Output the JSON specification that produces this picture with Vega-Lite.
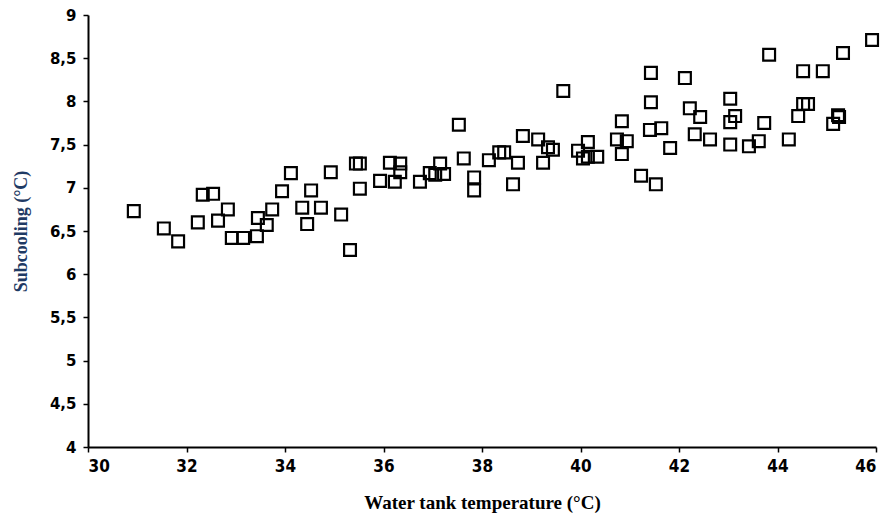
{
  "$schema": "https://vega.github.io/schema/vega-lite/v6.json",
  "width": 788,
  "height": 432,
  "autosize": {"type": "none"},
  "padding": {"left": 88, "top": 15, "right": 17, "bottom": 73},
  "background": "white",
  "config": {"view": {"stroke": null}},
  "data": {"values": [
    {"t": 30.93, "s": 6.73}, {"t": 31.54, "s": 6.53}, {"t": 31.83, "s": 6.38}, {"t": 32.23, "s": 6.60},
    {"t": 32.33, "s": 6.92}, {"t": 32.54, "s": 6.93}, {"t": 32.64, "s": 6.62}, {"t": 32.84, "s": 6.75},
    {"t": 32.92, "s": 6.42}, {"t": 33.15, "s": 6.42}, {"t": 33.43, "s": 6.44}, {"t": 33.45, "s": 6.65},
    {"t": 33.63, "s": 6.57}, {"t": 33.74, "s": 6.75}, {"t": 33.94, "s": 6.96}, {"t": 34.12, "s": 7.17},
    {"t": 34.35, "s": 6.77}, {"t": 34.45, "s": 6.58}, {"t": 34.53, "s": 6.97}, {"t": 34.73, "s": 6.77},
    {"t": 34.93, "s": 7.18}, {"t": 35.14, "s": 6.69}, {"t": 35.32, "s": 6.28}, {"t": 35.44, "s": 7.28},
    {"t": 35.52, "s": 7.28}, {"t": 35.52, "s": 6.99}, {"t": 35.93, "s": 7.08}, {"t": 36.13, "s": 7.29},
    {"t": 36.23, "s": 7.07}, {"t": 36.34, "s": 7.28}, {"t": 36.34, "s": 7.18}, {"t": 36.74, "s": 7.07},
    {"t": 36.94, "s": 7.17}, {"t": 37.05, "s": 7.15}, {"t": 37.15, "s": 7.28}, {"t": 37.23, "s": 7.16},
    {"t": 37.53, "s": 7.73}, {"t": 37.63, "s": 7.34}, {"t": 37.84, "s": 7.12}, {"t": 37.84, "s": 6.97},
    {"t": 38.14, "s": 7.32}, {"t": 38.35, "s": 7.41}, {"t": 38.45, "s": 7.41}, {"t": 38.63, "s": 7.04},
    {"t": 38.73, "s": 7.29}, {"t": 38.83, "s": 7.60}, {"t": 39.14, "s": 7.56}, {"t": 39.24, "s": 7.29},
    {"t": 39.34, "s": 7.47}, {"t": 39.44, "s": 7.44}, {"t": 39.65, "s": 8.12}, {"t": 39.95, "s": 7.43},
    {"t": 40.05, "s": 7.34}, {"t": 40.15, "s": 7.36}, {"t": 40.15, "s": 7.53}, {"t": 40.34, "s": 7.36},
    {"t": 40.74, "s": 7.56}, {"t": 40.84, "s": 7.77}, {"t": 40.84, "s": 7.39}, {"t": 40.94, "s": 7.54},
    {"t": 41.23, "s": 7.14}, {"t": 41.41, "s": 7.67}, {"t": 41.43, "s": 8.33}, {"t": 41.43, "s": 7.99},
    {"t": 41.53, "s": 7.04}, {"t": 41.64, "s": 7.69}, {"t": 41.82, "s": 7.46}, {"t": 42.12, "s": 8.27},
    {"t": 42.22, "s": 7.92}, {"t": 42.32, "s": 7.62}, {"t": 42.43, "s": 7.82}, {"t": 42.63, "s": 7.56},
    {"t": 43.04, "s": 7.50}, {"t": 43.04, "s": 8.03}, {"t": 43.04, "s": 7.76}, {"t": 43.14, "s": 7.83},
    {"t": 43.42, "s": 7.48}, {"t": 43.62, "s": 7.54}, {"t": 43.73, "s": 7.75}, {"t": 43.83, "s": 8.54},
    {"t": 44.23, "s": 7.56}, {"t": 44.42, "s": 7.83}, {"t": 44.52, "s": 7.97}, {"t": 44.52, "s": 8.35},
    {"t": 44.62, "s": 7.97}, {"t": 44.92, "s": 8.35}, {"t": 45.13, "s": 7.74}, {"t": 45.23, "s": 7.84},
    {"t": 45.25, "s": 7.82}, {"t": 45.33, "s": 8.56}, {"t": 45.92, "s": 8.71}
  ]},
  "mark": {"type": "point", "shape": "square", "filled": false, "stroke": "black", "strokeWidth": 2.2, "size": 140, "opacity": 1, "clip": false},
  "encoding": {
    "x": {
      "field": "t", "type": "quantitative",
      "scale": {"domain": [30, 46], "nice": false, "zero": false},
      "axis": {
        "title": "Water tank temperature (°C)",
        "values": [30, 32, 34, 36, 38, 40, 42, 44, 46],
        "grid": false, "domainColor": "black", "domainWidth": 2,
        "tickColor": "black", "tickWidth": 1.5, "tickSize": 5,
        "labelFont": "DejaVu Sans Condensed", "labelFontWeight": "bold", "labelFontSize": 17, "labelColor": "black",
        "labelPadding": 6,
        "titleFont": "Liberation Serif", "titleFontWeight": "bold", "titleFontSize": 19, "titleColor": "black",
        "titlePadding": 19
      }
    },
    "y": {
      "field": "s", "type": "quantitative",
      "scale": {"domain": [4, 9], "nice": false, "zero": false},
      "axis": {
        "title": "Subcooling (°C)",
        "values": [4, 4.5, 5, 5.5, 6, 6.5, 7, 7.5, 8, 8.5, 9],
        "labelExpr": "replace(toString(datum.value), '.', ',')",
        "grid": false, "domainColor": "black", "domainWidth": 2,
        "tickColor": "black", "tickWidth": 1.5, "tickSize": 5,
        "labelFont": "DejaVu Sans", "labelFontWeight": "bold", "labelFontSize": 15, "labelColor": "black",
        "labelPadding": 7,
        "titleFont": "Liberation Serif", "titleFontWeight": "bold", "titleFontSize": 18, "titleColor": "#1f3a64",
        "titlePadding": 19
      }
    }
  }
}
